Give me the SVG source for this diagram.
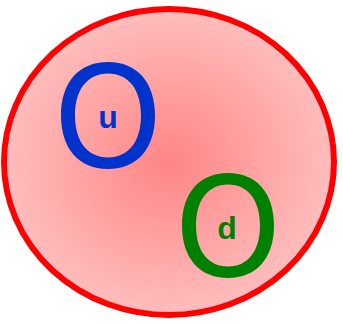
<svg xmlns="http://www.w3.org/2000/svg" width="343" height="324" viewBox="0 0 343 324">
<defs>
<radialGradient id="bg" cx="0.5" cy="0.5" r="0.5">
<stop offset="0" stop-color="#ff8585"/>
<stop offset="1" stop-color="#ffbdbd"/>
</radialGradient>
<style>
.q{fill-rule:evenodd;stroke:none}
.lbl{font-family:"Liberation Sans",Arial,sans-serif;font-size:32px;font-weight:bold;text-anchor:middle}
</style>
</defs>
<rect width="343" height="324" fill="#ffffff"/>
<g id="hadron">
<ellipse cx="169" cy="162" rx="165" ry="153" fill="url(#bg)" stroke="#ff0000" stroke-width="6"/>
</g>
<g id="connectors"></g>
<g id="quark-u">
<path class="q" fill="#0033cc" d="M108,62 C137.14,62 155,82.33 155,115.5 C155,148.67 137.14,169 108,169 C78.86,169 61,148.67 61,115.5 C61,82.33 78.86,62 108,62 Z M108,73.5 C128.46,73.5 141,89.46 141,115.5 C141,141.54 128.46,157.5 108,157.5 C87.54,157.5 75,141.54 75,115.5 C75,89.46 87.54,73.5 108,73.5 Z"/>
<text class="lbl" x="108" y="128" fill="#0033cc">u</text>
</g>
<g id="quark-d">
<path class="q" fill="#008000" d="M228,173 C256.52,173 274,192.95 274,225.5 C274,258.05 256.52,278 228,278 C199.48,278 182,258.05 182,225.5 C182,192.95 199.48,173 228,173 Z M228,184.5 C247.84,184.5 260,200.08 260,225.5 C260,250.92 247.84,266.5 228,266.5 C208.16,266.5 196,250.92 196,225.5 C196,200.08 208.16,184.5 228,184.5 Z"/>
<text class="lbl" x="227" y="239" fill="#008000">d</text>
</g>
</svg>
